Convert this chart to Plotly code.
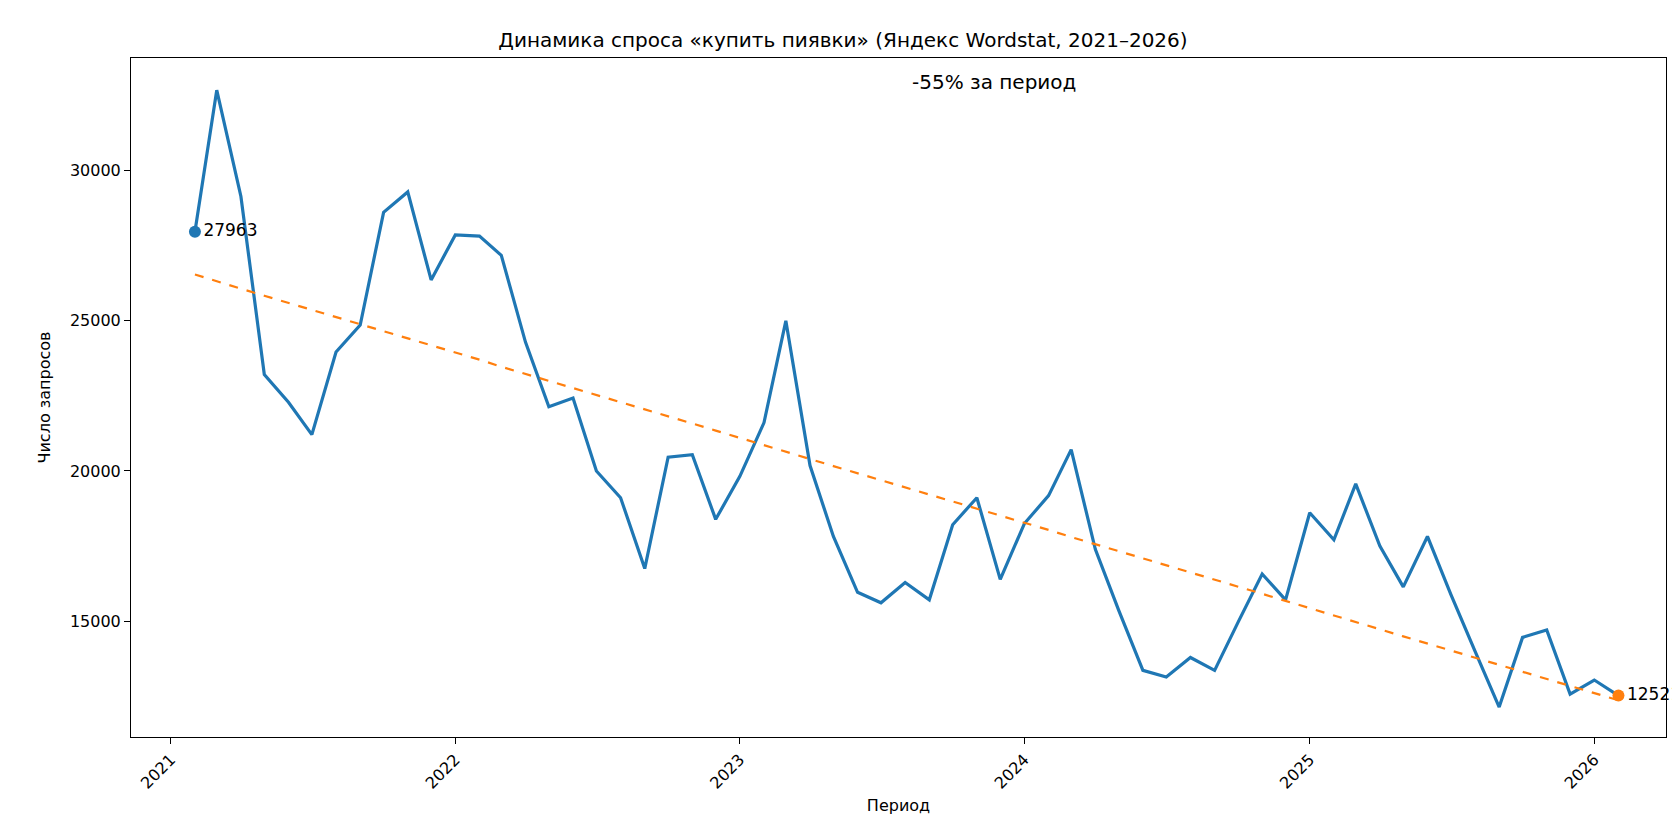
import numpy as np
import pandas as pd
import plotly.graph_objects as go

dates = pd.date_range("2021-02-01", periods=61, freq="MS")
values = [27963, 32680, 29140, 23210, 22290, 21210, 23960, 24860, 28610, 29290, 26360,
          27860, 27820, 27180, 24290, 22140, 22430, 20000, 19110, 16750, 20460, 20540, 18390,
          19820, 21610, 25000, 20180, 17820, 15960, 15610, 16290, 15710, 18210, 19110, 16390,
          18250, 19180, 20710, 17390, 15360, 13360, 13140, 13790, 13360, 14960, 16570, 15710,
          18610, 17710, 19570, 17500, 16140, 17820, 15890, 14000, 12140, 14460, 14710, 12570,
          13040, 12521]
tick_years = ["2021", "2022", "2023", "2024", "2025", "2026"]

idx = np.arange(len(values))
k, b = np.polyfit(idx, values, 1)
trend = k * idx + b
change = round((values[-1] - values[0]) / values[0] * 100)

fig = go.Figure()
fig.add_trace(go.Scatter(x=dates, y=values, mode="lines", line=dict(color="#1f77b4", width=3.2)))
fig.add_trace(go.Scatter(x=dates, y=trend, mode="lines", line=dict(color="#ff7f0e", width=2.2, dash="dash")))
fig.add_trace(go.Scatter(x=[dates[0]], y=[values[0]], mode="markers+text", marker=dict(color="#1f77b4", size=12),
                         text=[str(values[0])], textposition="middle right", cliponaxis=False,
                         textfont=dict(size=17, color="black")))
fig.add_trace(go.Scatter(x=[dates[-1]], y=[values[-1]], mode="markers+text", marker=dict(color="#ff7f0e", size=12),
                         text=[str(values[-1])], textposition="middle right", cliponaxis=False,
                         textfont=dict(size=17, color="black")))
fig.add_annotation(text=f"{change}% за период", xref="paper", yref="paper", x=0.562, y=0.985,
                   showarrow=False, yanchor="top", font=dict(size=20, color="black"))

axis = dict(showgrid=False, zeroline=False, showline=True, linecolor="black", mirror=True,
            ticks="outside", ticklen=6, tickcolor="black", tickfont=dict(size=16, color="black"))
fig.update_layout(
    width=1680, height=840, plot_bgcolor="white", paper_bgcolor="white", showlegend=False,
    font=dict(family="DejaVu Sans", color="black"),
    margin=dict(l=123, r=22, t=50, b=111),
    title=dict(text="Динамика спроса «купить пиявки» (Яндекс Wordstat, 2021–2026)", x=0.497, y=0.962,
               xanchor="center", yanchor="middle", font=dict(size=20)),
    xaxis=dict(**axis, range=["2020-11-11", "2026-04-03"], tickvals=[f"{y}-01-01" for y in tick_years],
               ticktext=tick_years, tickangle=-45,
               title=dict(text="Период", font=dict(size=16), standoff=8)),
    yaxis=dict(**axis, range=[11143, 33750], tickvals=[15000, 20000, 25000, 30000], tickformat="d",
               title=dict(text="Число запросов", font=dict(size=16))),
)
fig.write_html("out.html")
